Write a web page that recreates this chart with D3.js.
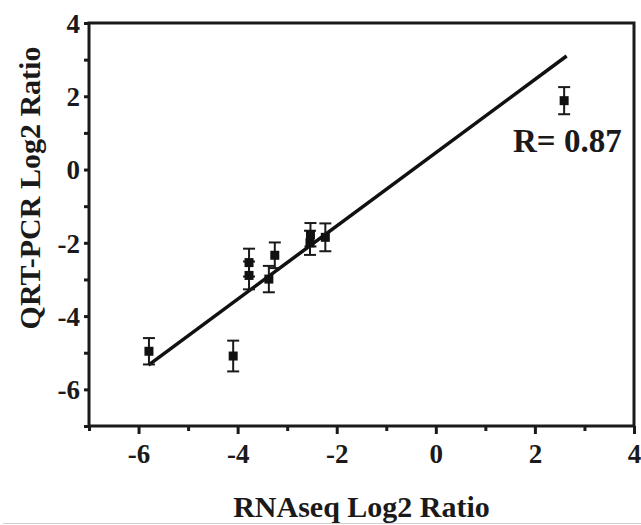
<!DOCTYPE html>
<html>
<head>
<meta charset="utf-8">
<script src="https://cdn.jsdelivr.net/npm/d3@7"></script>
<style>
  body { margin: 0; background: #fff; }
  svg text { font-family: "Liberation Serif", "Times New Roman", serif; font-weight: bold; fill: #1a1a1a; }
</style>
</head>
<body>
<svg id="chart"></svg>
<script>
// values
const rnaseq = [-5.79, -4.09, -3.77, -3.77, -3.25, -3.37, -2.54, -2.53, -2.23, 2.59];
const qpcr   = [-4.96, -5.09, -2.54, -2.89, -2.34, -2.99, -2.00, -1.78, -1.85, 1.88];
const errs   = [0.36, 0.42, 0.38, 0.38, 0.35, 0.36, 0.33, 0.32, 0.38, 0.37];
const fitSlope = 1.0, fitIntercept = 0.46, fitRange = [-5.8, 2.64];
const xTickLabels = [-6, -4, -2, 0, 2, 4];
const yTickLabels = [-6, -4, -2, 0, 2, 4];
const allTicks = d3.range(-7, 5);

const W = 641, H = 525;
const margin = {top: 23, right: 7, bottom: 99, left: 89};
const width = W - margin.left - margin.right;
const height = H - margin.top - margin.bottom;

const svg = d3.select('#chart').attr('width', W).attr('height', H);
const g = svg.append('g').attr('transform', `translate(${margin.left},${margin.top})`);

const x = d3.scaleLinear().domain([-7, 4]).range([0, width]);
const y = d3.scaleLinear().domain([-7, 4]).range([height, 0]);

const fmt = d => xTickLabels.includes(d) ? d : '';

const xAxis = d3.axisBottom(x).tickValues(allTicks).tickFormat(fmt).tickSizeOuter(0)
  .tickSize(0).tickPadding(18);
const yAxis = d3.axisLeft(y).tickValues(allTicks).tickFormat(fmt).tickSizeOuter(0)
  .tickSize(0).tickPadding(9);

const xg = g.append('g').attr('transform', `translate(0,${height})`).call(xAxis);
const yg = g.append('g').call(yAxis);
[xg, yg].forEach(a => {
  a.select('.domain').remove();
  a.selectAll('text').style('font-size', '27px').attr('fill', '#1a1a1a');
});
yg.selectAll('text').attr('dy', '0.35em');

// tick marks
xg.selectAll('.tick').append('line')
  .attr('y2', d => d % 2 === 0 ? 8 : 5).attr('stroke', '#1a1a1a').attr('stroke-width', 3);
yg.selectAll('.tick').append('line')
  .attr('x2', -5).attr('stroke', '#1a1a1a').attr('stroke-width', 3);

// frame
g.append('rect').attr('width', width).attr('height', height)
  .attr('fill', 'none').attr('stroke', '#1a1a1a').attr('stroke-width', 3);

// regression line
g.append('line')
  .attr('x1', x(fitRange[0])).attr('y1', y(fitSlope * fitRange[0] + fitIntercept))
  .attr('x2', x(fitRange[1])).attr('y2', y(fitSlope * fitRange[1] + fitIntercept))
  .attr('stroke', '#111').attr('stroke-width', 3.5);

const pts = rnaseq.map((v, i) => ({x: v, y: qpcr[i], e: errs[i]}));

const eb = g.append('g').selectAll('g').data(pts).join('g')
  .attr('stroke', '#1a1a1a').attr('stroke-width', 2);
eb.append('line').attr('x1', d => x(d.x)).attr('x2', d => x(d.x))
  .attr('y1', d => y(d.y - d.e)).attr('y2', d => y(d.y + d.e));
eb.append('line').attr('x1', d => x(d.x) - 6).attr('x2', d => x(d.x) + 6)
  .attr('y1', d => y(d.y + d.e)).attr('y2', d => y(d.y + d.e));
eb.append('line').attr('x1', d => x(d.x) - 6).attr('x2', d => x(d.x) + 6)
  .attr('y1', d => y(d.y - d.e)).attr('y2', d => y(d.y - d.e));

g.append('g').selectAll('rect').data(pts).join('rect')
  .attr('x', d => x(d.x) - 4.5).attr('y', d => y(d.y) - 4.5)
  .attr('width', 9).attr('height', 9).attr('fill', '#111');

// annotation
g.append('text').attr('x', 424).attr('y', 129).style('font-size', '33px').text('R= 0.87');

// axis titles
svg.append('text').attr('x', margin.left + width / 2 - 0).attr('y', 517)
  .attr('text-anchor', 'middle').style('font-size', '30px').text('RNAseq Log2 Ratio');
svg.append('text').attr('transform', `translate(40,${margin.top + 165}) rotate(-90)`)
  .attr('text-anchor', 'middle').style('font-size', '30px').text('QRT-PCR Log2 Ratio');

// faint scan border at the bottom
svg.append('line').attr('x1', 3).attr('x2', W).attr('y1', 523.5).attr('y2', 523.5)
  .attr('stroke', '#d0d0d0').attr('stroke-width', 1);
</script>
</body>
</html>
